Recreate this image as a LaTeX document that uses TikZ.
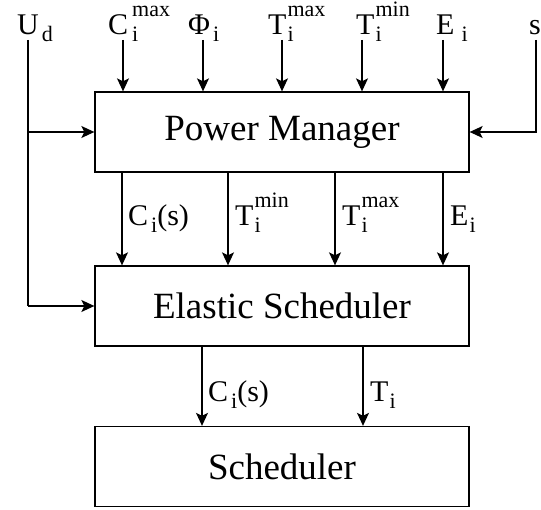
\documentclass[tikz,border=0pt]{standalone}
\usepackage{fontspec}
\setmainfont{Liberation Serif}
\usetikzlibrary{arrows.meta}
\newcommand\bigfont{\fontsize{37}{40}\selectfont}
\newcommand\labfont{\fontsize{30}{34}\selectfont}
\newcommand\scrfont{\fontsize{22}{24}\selectfont}
\newcommand\labsub[3]{#1\kern#2pt\raisebox{-7pt}{\scrfont #3}}
\newcommand\labss[4]{#1\kern#2pt\rlap{\raisebox{18pt}{\scrfont #4}}\raisebox{-7pt}{\scrfont #3}}
\tikzset{
  box/.style={draw, line width=1.3pt, minimum width=374pt, minimum height=80pt, inner sep=0pt, font=\bigfont},
  lbl/.style={inner sep=0pt, anchor=base west, font=\labfont},
  arr/.style={line width=1.3pt, -{Stealth[length=13pt,width=12pt,inset=3pt]}},
  ln/.style={line width=1.3pt},
}
\begin{document}
\begin{tikzpicture}[x=1pt,y=-1pt]
\useasboundingbox (0,0) rectangle (541,510);
% boxes
\node[box] (pm) at (282,132) {Power Manager};
\node[box] (es) at (282,306) {Elastic Scheduler};
\node[box] (sc) at (282,466.5) {Scheduler};
% top labels
\node[lbl] (lud) at (17,35) {\labsub{U}{3}{d}};
\node[lbl] (lc) at (108,35) {\labss{C}{4}{i}{max}};
\node[lbl] (lphi) at (188,35) {\labsub{Φ}{3}{i}};
\node[lbl] (ltmax) at (268,35) {\labss{T}{1}{i}{max}};
\node[lbl] (ltmin) at (356,35) {\labss{T}{1}{i}{min}};
\node[lbl] (le) at (436,35) {\labsub{E}{7}{i}};
\node[lbl] (ls) at (529,35) {s};
% top inputs
\coordinate (ud) at (28,40);
\coordinate (t1) at (123,40);
\coordinate (t2) at (203,40);
\coordinate (t3) at (282,40);
\coordinate (t4) at (362,40);
\coordinate (t5) at (443,40);
\coordinate (sv) at (536,40);
\foreach \c in {t1,t2,t3,t4,t5}
  \draw[arr] (\c) -- (\c |- pm.north);
\draw[arr] (sv) |- (pm.east);
\draw[ln] (ud) -- (ud |- es.west);
\draw[arr] (ud |- pm.west) -- (pm.west);
\draw[arr] (ud |- es.west) -- (es.west);
% middle arrows
\coordinate (m1) at (122,0);
\coordinate (m2) at (228,0);
\coordinate (m3) at (335,0);
\coordinate (m4) at (443,0);
\foreach \c in {m1,m2,m3,m4}
  \draw[arr] (pm.south -| \c) -- (es.north -| \c);
\node[lbl] (mc) at (128,226) {\labsub{C}{3}{i}(s)};
\node[lbl] (mtmin) at (235,226) {\labss{T}{1}{i}{min}};
\node[lbl] (mtmax) at (342,226) {\labss{T}{1}{i}{max}};
\node[lbl] (me) at (450,226) {\labsub{E}{1}{i}};
% bottom arrows
\coordinate (b1) at (202,0);
\coordinate (b2) at (363,0);
\foreach \c in {b1,b2}
  \draw[arr] (es.south -| \c) -- (sc.north -| \c);
\node[lbl] (bc) at (208,402) {\labsub{C}{3}{i}(s)};
\node[lbl] (bt) at (370,402) {\labsub{T}{1}{i}};
\end{tikzpicture}
\end{document}
